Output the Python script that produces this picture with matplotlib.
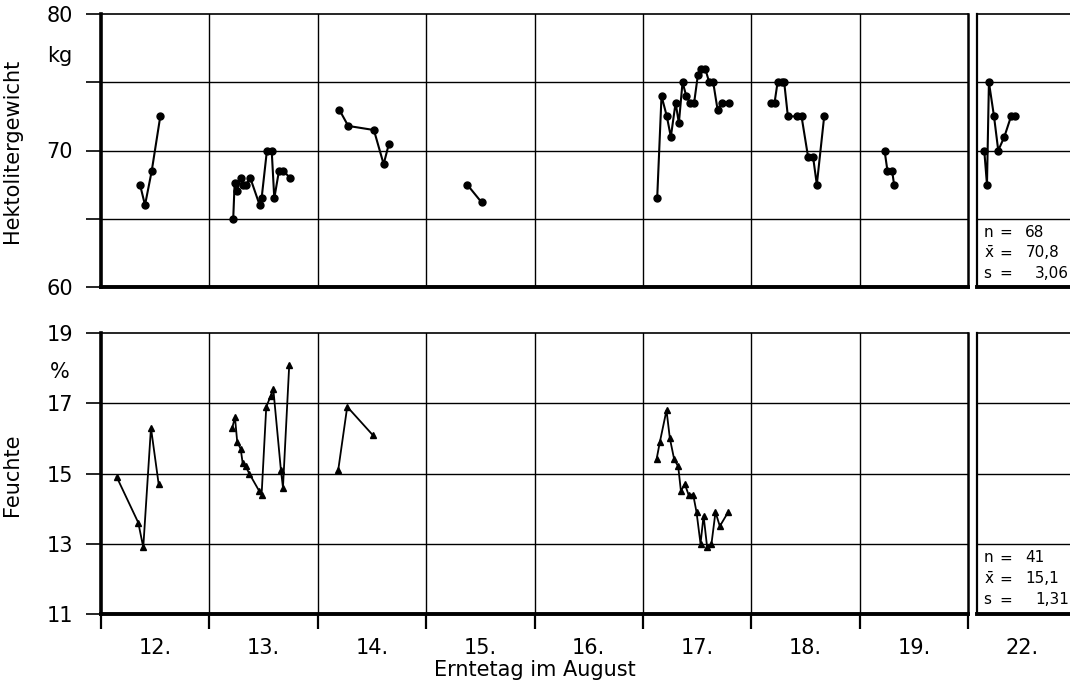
import matplotlib
matplotlib.use("Agg")
import matplotlib.pyplot as plt
import matplotlib.transforms as mtransforms
import numpy as np

# Hektolitergewicht (kg), one list per harvest day, x = day + time of day
hl_x = [
    [11.86, 11.906, 11.968, 12.047],
    [12.72, 12.733, 12.755, 12.789, 12.807, 12.838, 12.877, 12.964, 12.982,
     13.031, 13.075, 13.099, 13.142, 13.182, 13.244],
    [13.698, 13.781, 14.018, 14.108, 14.157],
    [14.879, 15.012],
    [16.632, 16.672, 16.721, 16.758, 16.802, 16.832, 16.866, 16.900, 16.934,
     16.973, 17.007, 17.035, 17.075, 17.112, 17.149, 17.189, 17.226, 17.296],
    [17.681, 17.715, 17.743, 17.780, 17.804, 17.838, 17.918, 17.964, 18.025,
     18.071, 18.105, 18.173],
    [18.73, 18.757, 18.80, 18.818],
]
hl_y = [
    [67.5, 66.0, 68.5, 72.5],
    [65.0, 67.6, 67.0, 68.0, 67.5, 67.5, 68.0, 66.0, 66.5, 70.0, 70.0, 66.5,
     68.5, 68.5, 68.0],
    [73.0, 71.8, 71.5, 69.0, 70.5],
    [67.5, 66.2],
    [66.5, 74.0, 72.5, 71.0, 73.5, 72.0, 75.0, 74.0, 73.5, 73.5, 75.5, 76.0,
     76.0, 75.0, 75.0, 73.0, 73.5, 73.5],
    [73.5, 73.5, 75.0, 75.0, 75.0, 72.5, 72.5, 72.5, 69.5, 69.5, 67.5, 72.5],
    [70.0, 68.5, 68.5, 67.5],
]
hl22_x = [21.647, 21.672, 21.69, 21.737, 21.776, 21.832, 21.894, 21.931]
hl22_y = [70.0, 67.5, 75.0, 72.5, 70.0, 71.0, 72.5, 72.5]

# Feuchte (%)
fe_x = [
    [11.645, 11.844, 11.89, 11.961, 12.032],
    [12.711, 12.736, 12.757, 12.789, 12.807, 12.835, 12.868, 12.960, 12.982,
     13.025, 13.065, 13.09, 13.16, 13.179, 13.237],
    [13.689, 13.772, 14.006],
    [16.626, 16.657, 16.718, 16.749, 16.789, 16.826, 16.851, 16.887, 16.921,
     16.964, 16.995, 17.032, 17.06, 17.093, 17.133, 17.17, 17.21, 17.287],
]
fe_y = [
    [14.9, 13.6, 12.9, 16.3, 14.7],
    [16.3, 16.6, 15.9, 15.7, 15.3, 15.2, 15.0, 14.5, 14.4, 16.9, 17.2, 17.4,
     15.1, 14.6, 18.1],
    [15.1, 16.9, 16.1],
    [15.4, 15.9, 16.8, 16.0, 15.4, 15.2, 14.5, 14.7, 14.4, 14.4, 13.9, 13.0,
     13.8, 12.9, 13.0, 13.9, 13.5, 13.9],
]

days = [12, 13, 14, 15, 16, 17, 18, 19]
day_labels = ["12.", "13.", "14.", "15.", "16.", "17.", "18.", "19."]

hl_stats = ["68", "70,8", "3,06"]
fe_stats = ["41", "15,1", "1,31"]

W, H = 1070, 697
FS = 15


def box(l, t, r, b):
    return [l / W, 1 - b / H, (r - l) / W, (b - t) / H]


def style(ax, ylim, grid_y, lw_right=1.5, show_right=True):
    ax.set_ylim(*ylim)
    for y in grid_y:
        ax.axhline(y, color="black", lw=1.0, zorder=1)
    ax.spines["left"].set_linewidth(2.6)
    ax.spines["bottom"].set_linewidth(2.8)
    ax.spines["top"].set_linewidth(1.2)
    ax.spines["right"].set_linewidth(lw_right)
    ax.spines["right"].set_visible(show_right)
    ax.tick_params(axis="both", which="both", colors="black", labelsize=FS)


fig = plt.figure(figsize=(W / 100, H / 100), dpi=100)

ax_hl = fig.add_axes(box(101, 14, 968, 287))
ax_fe = fig.add_axes(box(101, 333, 968, 614))
ax_hl22 = fig.add_axes(box(977, 14, 1070, 287))
ax_fe22 = fig.add_axes(box(977, 333, 1070, 614))

for ax in (ax_hl, ax_fe):
    ax.set_xlim(11.5, 19.5)
    for x in np.arange(12.5, 19.0, 1.0):
        ax.axvline(x, color="black", lw=1.0, zorder=1)
for ax in (ax_hl22, ax_fe22):
    ax.set_xlim(21.58, 22.438)

style(ax_hl, (60, 80), [65, 70, 75], lw_right=1.8)
style(ax_fe, (11, 19), [13, 15, 17], lw_right=1.8)
style(ax_hl22, (60, 80), [65, 70, 75], show_right=False)
style(ax_fe22, (11, 19), [13, 15, 17], show_right=False)
for ax in (ax_hl22, ax_fe22):
    ax.spines["left"].set_linewidth(1.6)
    ax.set_yticks([])

# data
for xs, ys in zip(hl_x, hl_y):
    ax_hl.plot(xs, ys, color="black", lw=1.5, marker="o", ms=5, zorder=3)
ax_hl22.plot(hl22_x, hl22_y, color="black", lw=1.5, marker="o", ms=5, zorder=3)
for xs, ys in zip(fe_x, fe_y):
    ax_fe.plot(xs, ys, color="black", lw=1.3, marker="^", ms=5, zorder=3)

# y axes
ax_hl.set_yticks([60, 65, 70, 75, 80], ["60", "", "70", "", "80"])
ax_hl.tick_params(axis="y", length=11, width=1.2, pad=9)
ax_fe.set_yticks([11, 13, 15, 17, 19])
ax_fe.tick_params(axis="y", length=11, width=1.2, pad=9)
ax_hl.set_ylabel("Hektolitergewicht", fontsize=FS)
ax_fe.set_ylabel("Feuchte", fontsize=FS)
ax_hl.yaxis.set_label_coords(-0.091, 0.5)
ax_fe.yaxis.set_label_coords(-0.091, 0.495)

tr = mtransforms.blended_transform_factory(ax_hl.transAxes, ax_hl.transData)
ax_hl.text(-0.033, 76.9, "kg", transform=tr, fontsize=FS, ha="right", va="center")
tr = mtransforms.blended_transform_factory(ax_fe.transAxes, ax_fe.transData)
ax_fe.text(-0.036, 17.9, "%", transform=tr, fontsize=FS, ha="right", va="center")

# x axes
ax_hl.set_xticks([])
ax_hl22.set_xticks([])
ax_fe.set_xticks(np.arange(11.5, 20.0, 1.0))
ax_fe.set_xticklabels([])
ax_fe.set_xticks(days, minor=True)
ax_fe.set_xticklabels(day_labels, minor=True)
ax_fe.tick_params(axis="x", which="major", length=11, width=1.6)
ax_fe.tick_params(axis="x", which="minor", length=0, pad=17)
ax_fe22.set_xticks([22], ["22."])
ax_fe22.tick_params(axis="x", length=0, pad=17)
ax_fe.set_xlabel("Erntetag im August", fontsize=FS, labelpad=2)

# summary statistics
plt.rcParams["mathtext.fontset"] = "dejavusans"
for ax, vals in ((ax_hl22, hl_stats), (ax_fe22, fe_stats)):
    rows = [0.20, 0.125, 0.05]
    for y, sym in zip(rows, ["n", r"$\bar{\mathrm{x}}$", "s"]):
        ax.text(0.07, y, sym, transform=ax.transAxes, fontsize=11, va="center")
        ax.text(0.245, y, "=", transform=ax.transAxes, fontsize=11, va="center")
    ax.text(0.52, rows[0], vals[0], transform=ax.transAxes, fontsize=11, va="center")
    ax.text(0.52, rows[1], vals[1], transform=ax.transAxes, fontsize=11, va="center")
    ax.text(0.99, rows[2], vals[2], transform=ax.transAxes, fontsize=11,
            va="center", ha="right")

fig.savefig("out.png", dpi=100)
